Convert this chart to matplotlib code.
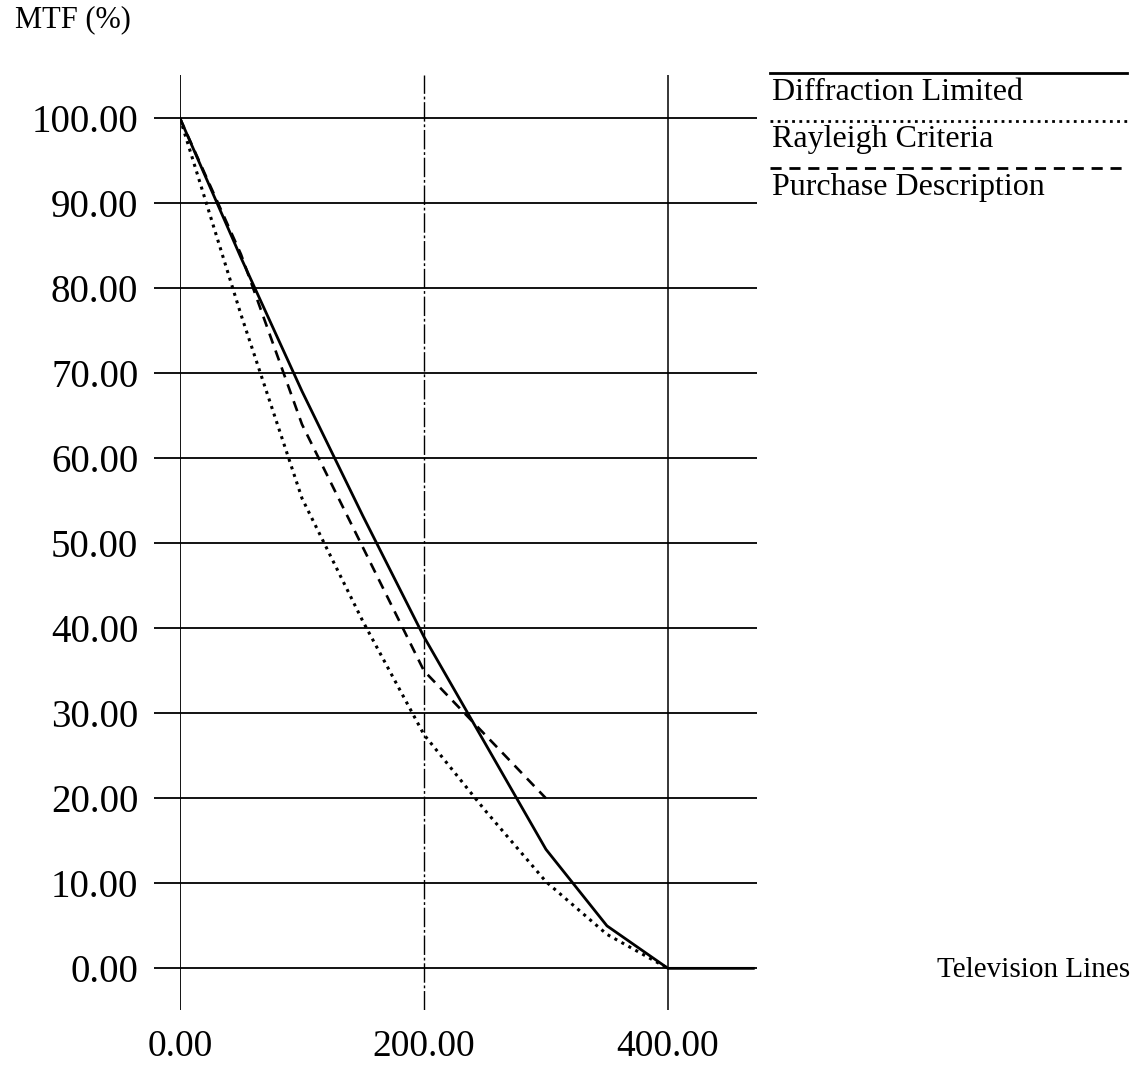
import matplotlib
matplotlib.use('Agg')
import matplotlib.pyplot as plt
from matplotlib.lines import Line2D

plt.rcParams['font.family'] = ['Liberation Serif', 'DejaVu Serif']

# values
tv_lines_diff = [0, 50, 100, 150, 200, 300, 350, 400, 470]
mtf_diff = [100, 83.6, 67.9, 53.2, 39, 14, 5, 0, 0]

tv_lines_rayleigh = [0, 50, 100, 150, 200, 250, 300, 350, 400]
mtf_rayleigh = [100, 76.9, 55.3, 40.8, 27.5, 18.6, 10.2, 4, 0]

tv_lines_purchase = [0, 50, 100, 200, 300]
mtf_purchase = [100, 84, 64, 35, 20]

y_ticks = [0, 10, 20, 30, 40, 50, 60, 70, 80, 90, 100]
x_ticks = [0, 200, 400]

fig = plt.figure(figsize=(11.37, 10.65), dpi=100)
ax = fig.add_axes([180 / 1137, 1 - 1010 / 1065, 577 / 1137, 935 / 1065])

ax.set_xlim(0, 473)
ax.set_ylim(-4.9, 105.1)

for s in ax.spines.values():
    s.set_visible(False)

# grid
for y in y_ticks:
    ax.axhline(y, color='black', lw=1.3, zorder=1)
ax.axvline(0, color='black', lw=1.3, zorder=1)
ax.axvline(200, color='black', lw=1.0, ls=(0, (14, 2, 2, 2)), zorder=1)
ax.axvline(400, color='black', lw=1.1, zorder=1)

ax.plot(tv_lines_diff, mtf_diff, color='black', lw=2.0, zorder=3)
ax.plot(tv_lines_rayleigh, mtf_rayleigh, color='black', lw=2.2,
        ls=(0, (1, 1.6)), zorder=3)
ax.plot(tv_lines_purchase, mtf_purchase, color='black', lw=1.9,
        ls=(0, (4, 2.8)), zorder=3)

ax.set_yticks(y_ticks)
ax.set_yticklabels(['%.2f' % v for v in y_ticks])
ax.set_xticks(x_ticks)
ax.set_xticklabels(['%.2f' % v for v in x_ticks])
ax.tick_params(axis='y', length=19, width=1.3, pad=11, labelsize=28)
ax.tick_params(axis='x', length=0, pad=14, labelsize=27)

fig.text(15 / 1137, 1 - 20 / 1065, 'MTF (%)', fontsize=22,
         ha='left', va='center')
fig.text(1130 / 1137, 1 - 970 / 1065, 'Television Lines', fontsize=21,
         ha='right', va='center')

# legend drawn by hand at upper right
legend_items = [
    ('Diffraction Limited', '-', 73),
    ('Rayleigh Criteria', (0, (1, 1.6)), 121),
    ('Purchase Description', (0, (4, 2.8)), 168),
]
for label, style, ypix in legend_items:
    yf = 1 - ypix / 1065
    fig.add_artist(Line2D([770 / 1137, 1127 / 1137], [yf, yf],
                          color='black', lw=2.0, ls=style))
    fig.text(772 / 1137, 1 - (ypix + 19) / 1065, label, fontsize=23,
             ha='left', va='center')

fig.savefig('out.png', dpi=100)
